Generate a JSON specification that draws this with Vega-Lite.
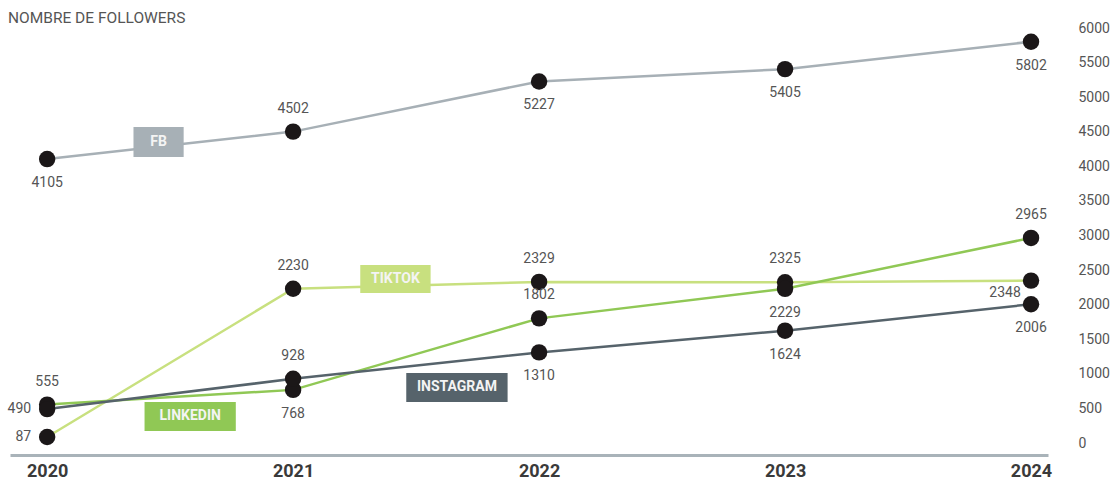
{
  "$schema": "https://vega.github.io/schema/vega-lite/v6.json",
  "width": 1038,
  "height": 415,
  "autosize": "none",
  "padding": {"left": 10, "top": 28, "right": 71, "bottom": 41},
  "config": {"view": {"stroke": null}, "font": "Roboto"},
  "title": {"text": "NOMBRE DE FOLLOWERS", "anchor": "start", "frame": "group", "fontSize": 15.5, "fontWeight": "normal", "color": "#555555", "offset": 4, "dx": -2, "dy": 9},
  "datasets": {
    "followers": [
      {"series": "FB", "year": 2020, "value": 4105},
      {"series": "FB", "year": 2021, "value": 4502},
      {"series": "FB", "year": 2022, "value": 5227},
      {"series": "FB", "year": 2023, "value": 5405},
      {"series": "FB", "year": 2024, "value": 5802},
      {"series": "TIKTOK", "year": 2020, "value": 87},
      {"series": "TIKTOK", "year": 2021, "value": 2230},
      {"series": "TIKTOK", "year": 2022, "value": 2329},
      {"series": "TIKTOK", "year": 2023, "value": 2325},
      {"series": "TIKTOK", "year": 2024, "value": 2348},
      {"series": "LINKEDIN", "year": 2020, "value": 555},
      {"series": "LINKEDIN", "year": 2021, "value": 768},
      {"series": "LINKEDIN", "year": 2022, "value": 1802},
      {"series": "LINKEDIN", "year": 2023, "value": 2229},
      {"series": "LINKEDIN", "year": 2024, "value": 2965},
      {"series": "INSTAGRAM", "year": 2020, "value": 490},
      {"series": "INSTAGRAM", "year": 2021, "value": 928},
      {"series": "INSTAGRAM", "year": 2022, "value": 1310},
      {"series": "INSTAGRAM", "year": 2023, "value": 1624},
      {"series": "INSTAGRAM", "year": 2024, "value": 2006}
    ],
    "tags": [
      {"series": "FB", "x0": 2020.351, "x1": 2020.555, "v0": 4135, "v1": 4569},
      {"series": "TIKTOK", "x0": 2021.273, "x1": 2021.559, "v0": 2169, "v1": 2574},
      {"series": "LINKEDIN", "x0": 2020.396, "x1": 2020.767, "v0": 174, "v1": 593},
      {"series": "INSTAGRAM", "x0": 2021.46, "x1": 2021.872, "v0": 593, "v1": 1012}
    ]
  },
  "encoding": {
    "x": {"field": "year", "type": "quantitative", "title": null,
      "scale": {"domain": [2019.849, 2024.069], "nice": false, "zero": false},
      "axis": {"orient": "bottom", "offset": 12, "values": [2020, 2021, 2022, 2023, 2024], "format": "d", "title": null, "grid": false, "ticks": false, "domainColor": "#a9b3b9", "domainWidth": 3, "labelFontSize": 18, "labelFontWeight": "bold", "labelColor": "#3a3a3a", "labelPadding": 7, "labelFlush": false}},
    "y": {"field": "value", "type": "quantitative", "title": null,
      "scale": {"domain": [0, 6000], "nice": false},
      "axis": {"orient": "right", "values": [0, 500, 1000, 1500, 2000, 2500, 3000, 3500, 4000, 4500, 5000, 5500, 6000], "format": "d", "title": null, "grid": false, "ticks": false, "domain": false, "labelFontSize": 14, "labelColor": "#555555", "labelPadding": 30}}
  },
  "layer": [
    {
      "data": {"name": "followers"},
      "mark": {"type": "line", "strokeWidth": 2.5},
      "encoding": {
        "color": {"field": "series", "type": "nominal",
          "scale": {"domain": ["FB", "TIKTOK", "LINKEDIN", "INSTAGRAM"], "range": ["#a7b0b6", "#c8e07f", "#90c855", "#56636b"]},
          "legend": null}
      }
    },
    {
      "data": {"name": "tags"},
      "mark": {"type": "rect"},
      "encoding": {
        "x": {"field": "x0", "type": "quantitative", "title": null},
        "x2": {"field": "x1"},
        "y": {"field": "v0", "type": "quantitative", "title": null},
        "y2": {"field": "v1"},
        "color": {"field": "series", "type": "nominal", "legend": null}
      }
    },
    {
      "data": {"name": "tags"},
      "transform": [{"calculate": "(datum.x0 + datum.x1) / 2", "as": "xc"}, {"calculate": "(datum.v0 + datum.v1) / 2", "as": "vc"}],
      "mark": {"type": "text", "color": "#f4f4f4", "fontWeight": "bold", "fontSize": 14, "baseline": "middle", "align": "center"},
      "encoding": {
        "x": {"field": "xc", "type": "quantitative", "title": null},
        "y": {"field": "vc", "type": "quantitative", "title": null},
        "text": {"field": "series"}
      }
    },
    {
      "data": {"name": "followers"},
      "mark": {"type": "circle", "size": 270, "color": "#1b1718", "opacity": 1}
    },
    {
      "data": {"name": "followers"},
      "transform": [{"filter": "(datum.series == 'FB' && datum.year == 2021) || (datum.series == 'TIKTOK' && datum.year >= 2021 && datum.year <= 2023) || (datum.series == 'LINKEDIN' && (datum.year == 2020 || datum.year == 2022 || datum.year == 2024)) || (datum.series == 'INSTAGRAM' && datum.year == 2021)"}],
      "mark": {"type": "text", "fontSize": 14, "color": "#555555", "baseline": "middle", "align": "center", "dy": -23},
      "encoding": {
        "text": {"field": "value", "type": "quantitative", "format": "d"}
      }
    },
    {
      "data": {"name": "followers"},
      "transform": [{"filter": "(datum.series == 'FB' && datum.year != 2021) || (datum.series == 'LINKEDIN' && (datum.year == 2021 || datum.year == 2023)) || (datum.series == 'INSTAGRAM' && datum.year >= 2022)"}],
      "mark": {"type": "text", "fontSize": 14, "color": "#555555", "baseline": "middle", "align": "center", "dy": 24},
      "encoding": {
        "text": {"field": "value", "type": "quantitative", "format": "d"}
      }
    },
    {
      "data": {"name": "followers"},
      "transform": [{"filter": "datum.series == 'TIKTOK' && datum.year == 2024"}],
      "mark": {"type": "text", "fontSize": 14, "color": "#555555", "baseline": "middle", "align": "center", "dy": 12, "dx": -26},
      "encoding": {
        "text": {"field": "value", "type": "quantitative", "format": "d"}
      }
    },
    {
      "data": {"name": "followers"},
      "transform": [{"filter": "(datum.series == 'TIKTOK' || datum.series == 'INSTAGRAM') && datum.year == 2020"}],
      "mark": {"type": "text", "fontSize": 14, "color": "#555555", "baseline": "middle", "align": "right", "dx": -16},
      "encoding": {
        "text": {"field": "value", "type": "quantitative", "format": "d"}
      }
    }
  ]
}
